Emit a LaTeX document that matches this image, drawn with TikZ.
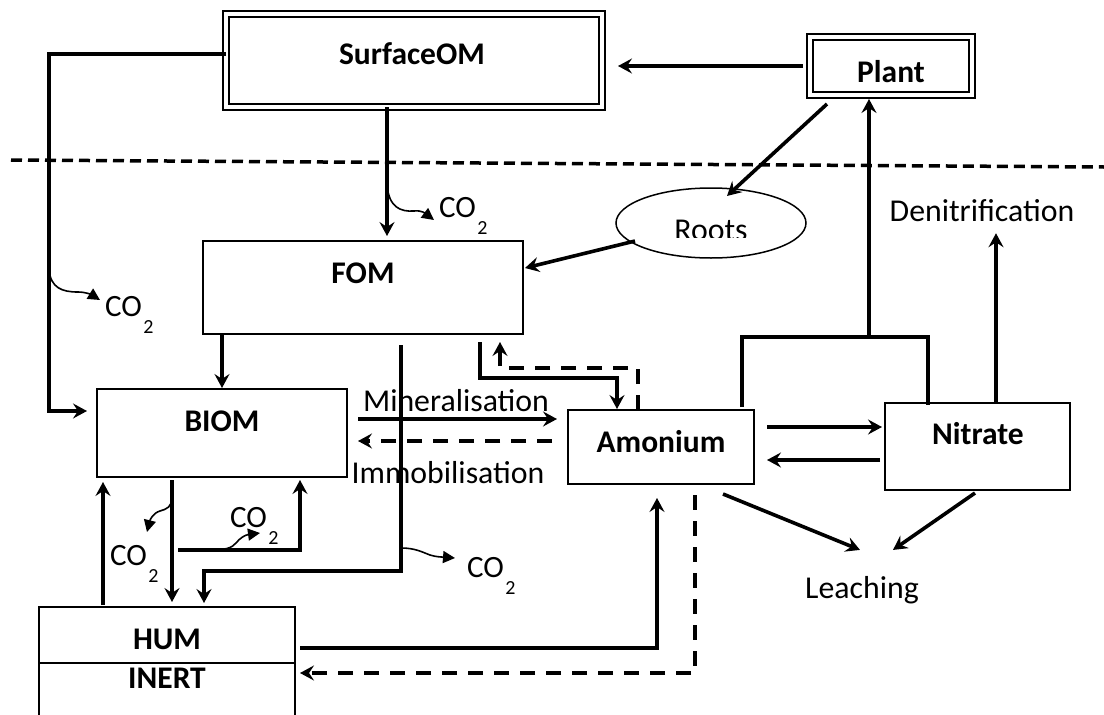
\documentclass[tikz,border=0pt]{standalone}
\usepackage{fontspec}
\setmainfont{Carlito}
\usetikzlibrary{arrows.meta,calc,shapes.geometric}
\newcommand{\cotwo}{CO\raisebox{-17pt}{\fontsize{20}{24}\selectfont\hspace{1.5pt}2}}
\begin{document}
\begin{tikzpicture}[x=1pt,y=-1pt,
  every node/.style={inner sep=0pt, outer sep=0pt, font=\fontsize{31.8}{38}\selectfont},
  box/.style={draw, rectangle, line width=2.5pt},
  thinbox/.style={draw, rectangle, line width=2pt},
  dbox/.style={draw, rectangle, line width=2pt, double, double distance=4pt},
  arr/.style={line width=3.6pt, -{Stealth[length=14pt,width=15pt,inset=5pt]}},
  darr/.style={arr, dash pattern=on 15pt off 11pt},
  plain/.style={line width=3.6pt},
  co2arr/.style={line width=1.6pt, -{Triangle[length=12pt,width=12pt]}},
  bl/.style={font=\fontsize{31.5}{38}\selectfont\bfseries, anchor=base},
  tl/.style={anchor=base},
  co/.style={anchor=base west, font=\fontsize{31}{37}\selectfont}
]
\useasboundingbox (0,0) rectangle (1104,715);
\clip (0,0) rectangle (1104,715);

% surface line
\draw[line width=3.5pt, dash pattern=on 11pt off 6pt] (11,160) -- (1104,167);

% boxes
\node[dbox, minimum width=376pt, minimum height=93pt] (surf) at (414,60.5) {};
\node[dbox, minimum width=162pt, minimum height=58pt] (plant) at (891,66) {};
\node[box, minimum width=320pt, minimum height=93pt] (fom) at (363,287.5) {};
\node[draw, ellipse, line width=1.5pt, minimum width=190pt, minimum height=70pt] (roots) at (711,223) {};
\node[box, minimum width=250pt, minimum height=88pt] (biom) at (222,433) {};
\node[thinbox, minimum width=186pt, minimum height=74pt] (amon) at (661,447) {};
\node[thinbox, minimum width=185pt, minimum height=87pt] (nitr) at (977.5,446.5) {};
\node[box, minimum width=256pt, minimum height=128pt] (hum) at (167,671) {};
\draw[line width=2.2pt] ($(hum.west)+(0,-8)$) -- ($(hum.east)+(0,-8)$);

% texts
\node[bl] (surftxt) at (412,64) {SurfaceOM};
\node[bl] (planttxt) at (891,82) {Plant};
\node[bl] (fomtxt) at (363,283) {FOM};
\node[bl] (biomtxt) at (222,431) {BIOM};
\node[bl] (amontxt) at (661,452) {Amonium};
\node[bl] (nitrtxt) at (978,444) {Nitrate};
\node[bl] (humtxt) at (167,649) {HUM};
\node[bl] (inerttxt) at (167,688) {INERT};
\begin{scope}
\clip (600,150) rectangle (820,237);
\node[tl] (rootstxt) at (711,240) {Roots};
\end{scope}
\node[tl] (minl) at (456,411) {Mineralisation};
\node[tl] (imml) at (448,483) {Immobilisation};
\node[tl] (denit) at (982,221) {Denitrification};
\node[tl] (leach) at (862,598) {Leaching};

\node[co] (co2a) at (439,217) {\cotwo};
\node[co] (co2b) at (105,316) {\cotwo};
\node[co] (co2c) at (467,577) {\cotwo};
\node[co] (co2d) at (110,565) {\cotwo};
\node[co] (co2e) at (230,527) {\cotwo};

% connectors
\draw[arr, shorten <=7pt, shorten >=16pt] (plant.west) -- (plant.west -| surf.east);
\draw[arr, shorten >=5pt] ($(surf.south)+(-27,0)$) -- ($(fom.north)+(24,0)$);
\draw[co2arr] (387,185) .. controls (389,207) and (400,212) .. (414,211) .. controls (422,210) and (426,214) .. (434,220);

\coordinate (lft) at (49,0);
\coordinate (bin) at ($(biom.west)+(0,-22)$);
\draw[arr, shorten >=10pt] ($(surf.west)+(0,-6.5)$) -| (lft |- bin) -- (bin);
\draw[co2arr] (49,270) .. controls (51,288) and (62,292) .. (78,292) .. controls (86,292) and (92,295) .. (100,300);

\draw[arr, shorten >=1pt] (fom.south -| biom.north) -- (biom.north);

\draw[arr] ($(plant.south)+(-64,9)$) -- ($(roots.north)+(16,8)$);
\draw[arr] ($(roots.center)+(-76,18)$) -- ($(fom.east)+(2,-19.5)$);

\coordinate (brk) at (869,337);
\draw[plain] ($(amon.north)+(81,-3)$) |- (brk) -| ($(nitr.north)+(-49.5,2)$);
\draw[arr, shorten >=4pt] (brk) -- (brk |- plant.south);
\draw[arr] ($(nitr.north)+(18.5,0)$) -- ($(denit.south)+(14,12)$);

\draw[arr] ($(amon.east)+(13,-20)$) -- ($(nitr.west)+(-3,-19.5)$);
\draw[arr] ($(nitr.west)+(-5,13.5)$) -- ($(amon.east)+(13,13)$);

\draw[arr] ($(amon.south)+(62,10)$) -- ($(leach.north)+(-2,-26)$);
\draw[arr] ($(nitr.south)+(-2.5,3)$) -- ($(leach.north)+(31,-26)$);

\draw[arr] ($(fom.south)+(117,8)$) |- ($(amon.north)+(-44,-32)$) -- ($(amon.north)+(-44,-1)$);
\draw[darr] ($(amon.north)+(-23,0)$) -- ++(0,-42) -| ($(fom.south)+(137,8)$);

\draw[arr] ($(biom.east)+(11,-14)$) -- ($(amon.west)+(-11,-28)$);
\draw[darr] ($(amon.west)+(-16,-6)$) -- ($(biom.east)+(11,8)$);

\draw[arr] ($(fom.south)+(38,11)$) -- ++(0,226) -| ($(hum.north)+(37,-4)$);
\draw[co2arr] (401,548) .. controls (415,548) and (422,552) .. (430,555) .. controls (436,557) and (442,557) .. (455,558);

\draw[arr] ($(biom.south)+(-50,3)$) -- ($(hum.north)+(5,-5)$);
\draw[co2arr] (172,497) .. controls (172,507) and (167,509) .. (160,511) .. controls (153,513) and (150,520) .. (147,532);

\draw[arr] ($(hum.north)+(-64,-2)$) -- ($(biom.south)+(-119,5)$);
\draw[arr] ($(biom.south)+(-44,73)$) -| ($(biom.south)+(78,3)$);
\draw[co2arr] (212,550) .. controls (225,550) and (232,548) .. (236,543) .. controls (240,538) and (245,535) .. (260,533);

\draw[arr] ($(hum.east)+(5,-23)$) -| ($(amon.south)+(-4,14)$);
\draw[darr] ($(amon.south)+(34,11)$) |- ($(hum.east)+(5,2)$);
\end{tikzpicture}
\end{document}
